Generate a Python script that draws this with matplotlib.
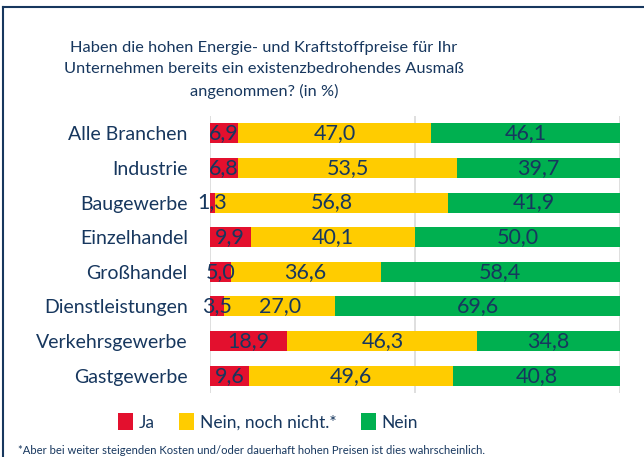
import matplotlib.pyplot as plt
from matplotlib.patches import Patch
from matplotlib.lines import Line2D

plt.rcParams['font.family'] = ['Lato', 'DejaVu Sans']

# data
categories = ['Alle Branchen', 'Industrie', 'Baugewerbe', 'Einzelhandel',
              'Großhandel', 'Dienstleistungen', 'Verkehrsgewerbe', 'Gastgewerbe']
ja = [6.9, 6.8, 1.3, 9.9, 5.0, 3.5, 18.9, 9.6]
noch_nicht = [47.0, 53.5, 56.8, 40.1, 36.6, 27.0, 46.3, 49.6]
nein = [46.1, 39.7, 41.9, 50.0, 58.4, 69.6, 34.8, 40.8]
series_names = ['Ja', 'Nein, noch nicht.*', 'Nein']
colors = ['#E3102E', '#FFCC00', '#00B050']
navy = '#17375E'

fig = plt.figure(figsize=(6.44, 4.57), dpi=100)
ax = fig.add_axes([210 / 644, 1 - 393 / 457, 410 / 644, 277 / 457])

y = list(range(len(categories)))
left = [0] * len(categories)
for vals, col in zip([ja, noch_nicht, nein], colors):
    ax.barh(y, vals, left=left, color=col, height=0.58, zorder=2)
    for yi, (l, v) in enumerate(zip(left, vals)):
        ax.text(l + v / 2, yi, f'{v:.1f}'.replace('.', ','), ha='center', va='center',
                fontsize=15.5, color=navy, zorder=3)
    left = [a + b for a, b in zip(left, vals)]

ax.set_xlim(0, 100)
ax.set_ylim(len(categories) - 0.5, -0.5)
ax.set_xticks([0, 50, 100])
ax.grid(axis='x', color='#D9D9D9', linewidth=1.2, zorder=0)
ax.set_xticklabels([])
ax.tick_params(length=0)
ax.set_yticks(y)
ax.set_yticklabels(categories, fontsize=14, color=navy)
ax.tick_params(axis='y', pad=16)
for s in ax.spines.values():
    s.set_visible(False)

fig.text(264 / 644, 1 - 70 / 457,
         'Haben die hohen Energie- und Kraftstoffpreise für Ihr\n'
         'Unternehmen bereits ein existenzbedrohendes Ausmaß\n'
         'angenommen? (in %)',
         ha='center', va='center', multialignment='center',
         fontsize=11.8, color=navy, linespacing=1.62)

handles = [Patch(facecolor=c, edgecolor='none') for c in colors]
fig.legend(handles, series_names, loc='center', bbox_to_anchor=(268 / 644, 1 - 422 / 457),
           ncol=3, frameon=False, fontsize=12.5, labelcolor=navy,
           handlelength=0.85, handleheight=1.1, handletextpad=0.35, columnspacing=1.4)

fig.text(18 / 644, 1 - 450 / 457,
         '*Aber bei weiter steigenden Kosten und/oder dauerhaft hohen Preisen ist dies wahrscheinlich.',
         ha='left', va='center', fontsize=8.1, color=navy)

# border on top and left
fig.add_artist(Line2D([3 / 644, 1], [1 - 7 / 457, 1 - 7 / 457], color=navy, linewidth=1.5))
fig.add_artist(Line2D([3 / 644, 3 / 644], [0, 1 - 7 / 457], color=navy, linewidth=1.5))

fig.savefig('out.png', dpi=100)
